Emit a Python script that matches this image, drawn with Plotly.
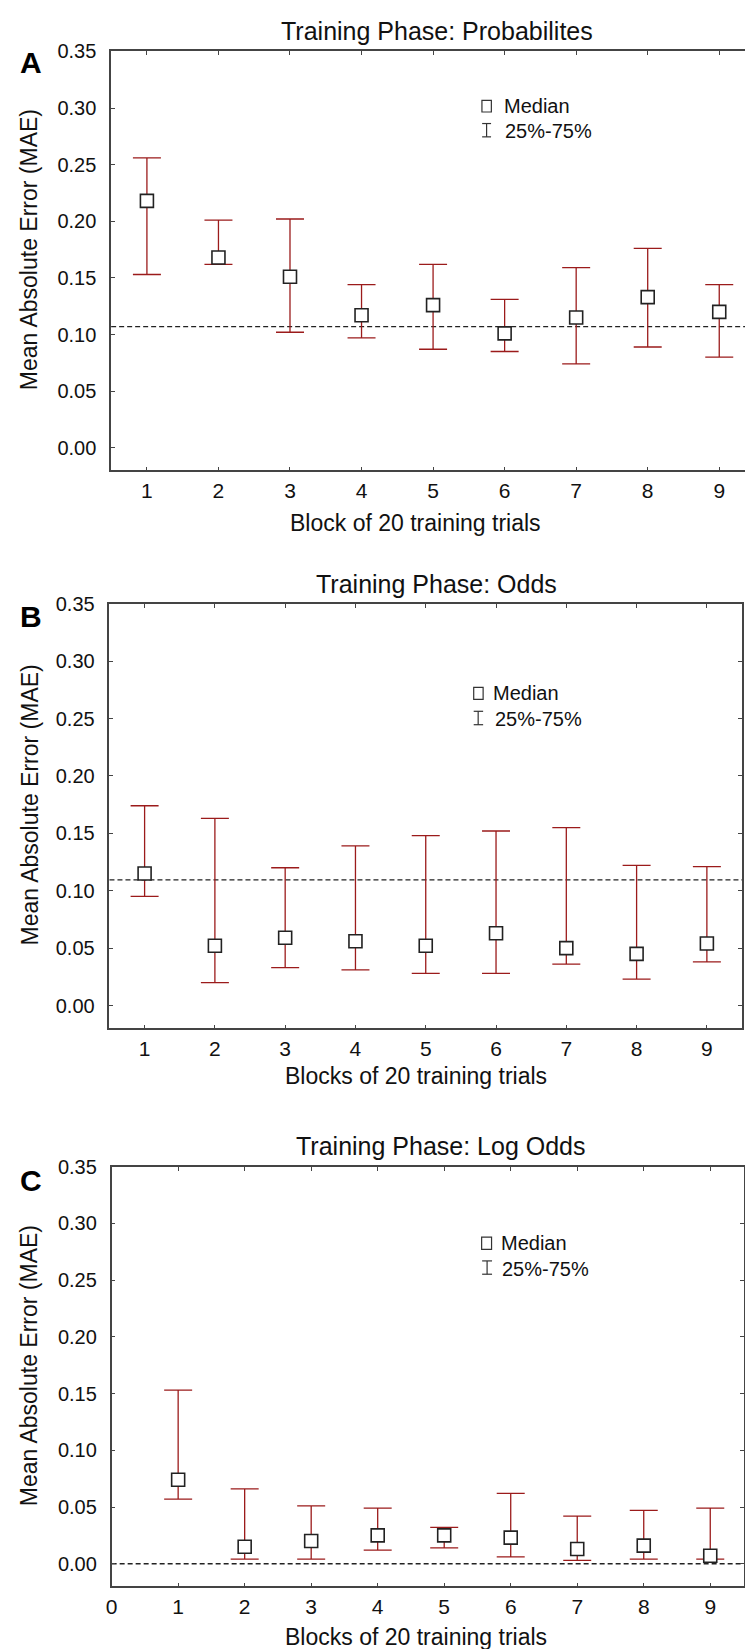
import plotly.graph_objects as go

W, H = 745, 1649
FONT = "Liberation Sans, Arial, Helvetica, sans-serif"

# ---------------- data ----------------
blocks_A = [1, 2, 3, 4, 5, 6, 7, 8, 9]
median_A = [0.218, 0.168, 0.151, 0.117, 0.126, 0.101, 0.115, 0.133, 0.120]
q25_A = [0.153, 0.162, 0.102, 0.097, 0.087, 0.085, 0.074, 0.089, 0.080]
q75_A = [0.256, 0.201, 0.202, 0.144, 0.162, 0.131, 0.159, 0.176, 0.144]
ref_A = 0.107

blocks_B = [1, 2, 3, 4, 5, 6, 7, 8, 9]
median_B = [0.115, 0.052, 0.059, 0.056, 0.052, 0.063, 0.050, 0.045, 0.054]
q25_B = [0.095, 0.020, 0.033, 0.031, 0.028, 0.028, 0.036, 0.023, 0.038]
q75_B = [0.174, 0.163, 0.120, 0.139, 0.148, 0.152, 0.155, 0.122, 0.121]
ref_B = 0.1095

blocks_C = [1, 2, 3, 4, 5, 6, 7, 8, 9]
median_C = [0.074, 0.015, 0.020, 0.025, 0.025, 0.023, 0.013, 0.016, 0.007]
q25_C = [0.057, 0.004, 0.004, 0.012, 0.014, 0.006, 0.003, 0.004, 0.004]
q75_C = [0.153, 0.066, 0.051, 0.049, 0.032, 0.062, 0.042, 0.047, 0.049]
ref_C = 0.0

y_ticks = [0.00, 0.05, 0.10, 0.15, 0.20, 0.25, 0.30, 0.35]
x_ticks_AB = [1, 2, 3, 4, 5, 6, 7, 8, 9]
x_ticks_C = [0, 1, 2, 3, 4, 5, 6, 7, 8, 9]

titles = ["Training Phase: Probabilites", "Training Phase: Odds", "Training Phase: Log Odds"]
x_titles = ["Block of 20 training trials", "Blocks of 20 training trials", "Blocks of 20 training trials"]
y_title = "Mean Absolute Error (MAE)"
letters = ["A", "B", "C"]
legend_labels = ["Median", "25%-75%"]

# ---------------- helpers ----------------
def px(x):
    return x / W

def py(y):
    return 1 - y / H

ERR_COLOR = "#9b1b1b"
AX_COLOR = "#444444"

fig = go.Figure()

panels = [
    dict(x=blocks_A, med=median_A, lo=q25_A, hi=q75_A, ref=ref_A,
         xd=(106, 745), yd=(40.7, 462.5), xr=(0.5, 9.36), ticks=x_ticks_AB, ymirror=False,
         title=(434.7, 20), xtitle=(413, 515), ytitle_y=240, letter=(24.7, 51.7),
         leg=dict(sq=(479.8, 489.3, 90, 101.7), t1=(499.8, 96), ib=(484.5, 480, 489, 113.3, 126.7), t2=(501, 121))),
    dict(x=blocks_B, med=median_B, lo=q25_B, hi=q75_B, ref=ref_B,
         xd=(104.3, 742), yd=(596.7, 1024.3), xr=(0.5, 9.5), ticks=x_ticks_AB, ymirror="ticks",
         title=(434.2, 576.7), xtitle=(413.5, 1071.7), ytitle_y=799, letter=(25, 610),
         leg=dict(sq=(471.5, 481, 681, 693), t1=(489, 687), ib=(476, 471.5, 481, 705, 718.5), t2=(491, 713))),
    dict(x=blocks_C, med=median_C, lo=q25_C, hi=q75_C, ref=ref_C,
         xd=(106.5, 743.5), yd=(1163.5, 1586), xr=(0, 9.5), ticks=x_ticks_C, ymirror="ticks",
         title=(438.8, 1142.7), xtitle=(413.3, 1637.3), ytitle_y=1363.5, letter=(25.4, 1177),
         leg=dict(sq=(479.5, 489.5, 1234.3, 1246.7), t1=(496.7, 1240), ib=(485, 480, 490, 1258.3, 1271.7), t2=(498, 1266))),
]

annotations = []
shapes = []

for i, p in enumerate(panels):
    n = "" if i == 0 else str(i + 1)
    xa, ya = "x" + n, "y" + n
    up = [h - m for h, m in zip(p["hi"], p["med"])]
    dn = [m - l for m, l in zip(p["med"], p["lo"])]
    fig.add_trace(go.Scatter(
        x=p["x"], y=p["med"], mode="markers", xaxis=xa, yaxis=ya,
        marker=dict(symbol="square", size=13, color="white",
                    line=dict(color="#222222", width=1.6)),
        error_y=dict(type="data", symmetric=False, array=up, arrayminus=dn,
                     color=ERR_COLOR, thickness=1.3, width=14),
        showlegend=False, hoverinfo="skip"))

    xkey = "xaxis" + n
    ykey = "yaxis" + n
    fig.layout[xkey] = dict(
        domain=[px(p["xd"][0]), px(p["xd"][1])], range=list(p["xr"]), anchor=ya,
        tickmode="array", tickvals=p["ticks"], ticktext=[str(t) for t in p["ticks"]],
        ticks="inside", ticklen=4, tickcolor=AX_COLOR, tickwidth=1,
        showline=True, linecolor=AX_COLOR, linewidth=1.6, mirror="ticks",
        showgrid=False, zeroline=False,
        tickfont=dict(family=FONT, size=21, color="#111111"), ticklabelstandoff=1)
    fig.layout[ykey] = dict(
        domain=[py(p["yd"][1]), py(p["yd"][0])], range=[-0.02, 0.35], anchor=xa,
        tickmode="array", tickvals=y_ticks, ticktext=["%.2f" % v for v in y_ticks],
        ticks="inside", ticklen=4, tickcolor=AX_COLOR, tickwidth=1,
        showline=True, linecolor=AX_COLOR, linewidth=1.6, mirror=p["ymirror"],
        showgrid=False, zeroline=False,
        tickfont=dict(family=FONT, size=20, color="#111111"), ticklabelstandoff=9)

    # dashed reference line
    shapes.append(dict(type="line", xref=xa + " domain", yref=ya, x0=0, x1=1,
                       y0=p["ref"], y1=p["ref"], layer="below",
                       line=dict(color="#222222", width=1.3, dash="5px,3px")))

    # titles
    annotations.append(dict(text=titles[i], x=px(p["title"][0]), y=py(p["title"][1]),
                            xref="paper", yref="paper", xanchor="center", yanchor="middle",
                            showarrow=False, font=dict(family=FONT, size=25, color="#111111")))
    annotations.append(dict(text=x_titles[i], x=px(p["xtitle"][0]), y=py(p["xtitle"][1]),
                            xref="paper", yref="paper", xanchor="center", yanchor="middle",
                            showarrow=False, font=dict(family=FONT, size=23, color="#111111")))
    annotations.append(dict(text=y_title, x=px(24), y=py(p["ytitle_y"]), textangle=-90,
                            xref="paper", yref="paper", xanchor="center", yanchor="middle",
                            showarrow=False, font=dict(family=FONT, size=23, color="#111111")))
    annotations.append(dict(text="<b>%s</b>" % letters[i], x=px(p["letter"][0]), y=py(p["letter"][1]),
                            xref="paper", yref="paper", xanchor="center", yanchor="middle",
                            showarrow=False, font=dict(family=FONT, size=30, color="#000000")))

    # legend (drawn manually)
    lg = p["leg"]
    x0, x1, y0, y1 = lg["sq"]
    shapes.append(dict(type="rect", xref="paper", yref="paper", x0=px(x0), x1=px(x1),
                       y0=py(y1), y1=py(y0), fillcolor="white",
                       line=dict(color="#333333", width=1.2)))
    cx, ax0, ax1, by0, by1 = lg["ib"]
    shapes.append(dict(type="line", xref="paper", yref="paper", x0=px(cx), x1=px(cx),
                       y0=py(by0), y1=py(by1), line=dict(color="#333333", width=1.2)))
    for yy in (by0, by1):
        shapes.append(dict(type="line", xref="paper", yref="paper", x0=px(ax0), x1=px(ax1),
                           y0=py(yy), y1=py(yy), line=dict(color="#333333", width=1.2)))
    annotations.append(dict(text=legend_labels[0], x=px(lg["t1"][0]), y=py(lg["t1"][1]),
                            xref="paper", yref="paper", xanchor="left", yanchor="middle",
                            showarrow=False, font=dict(family=FONT, size=20, color="#111111")))
    annotations.append(dict(text=legend_labels[1], x=px(lg["t2"][0]), y=py(lg["t2"][1]),
                            xref="paper", yref="paper", xanchor="left", yanchor="middle",
                            showarrow=False, font=dict(family=FONT, size=20, color="#111111")))

fig.update_layout(
    width=W, height=H, margin=dict(l=0, r=0, t=0, b=0),
    paper_bgcolor="white", plot_bgcolor="white", showlegend=False,
    annotations=annotations, shapes=shapes,
    font=dict(family=FONT, color="#111111"))

fig.write_html("out.html", post_script="document.body.style.margin='0px';")
